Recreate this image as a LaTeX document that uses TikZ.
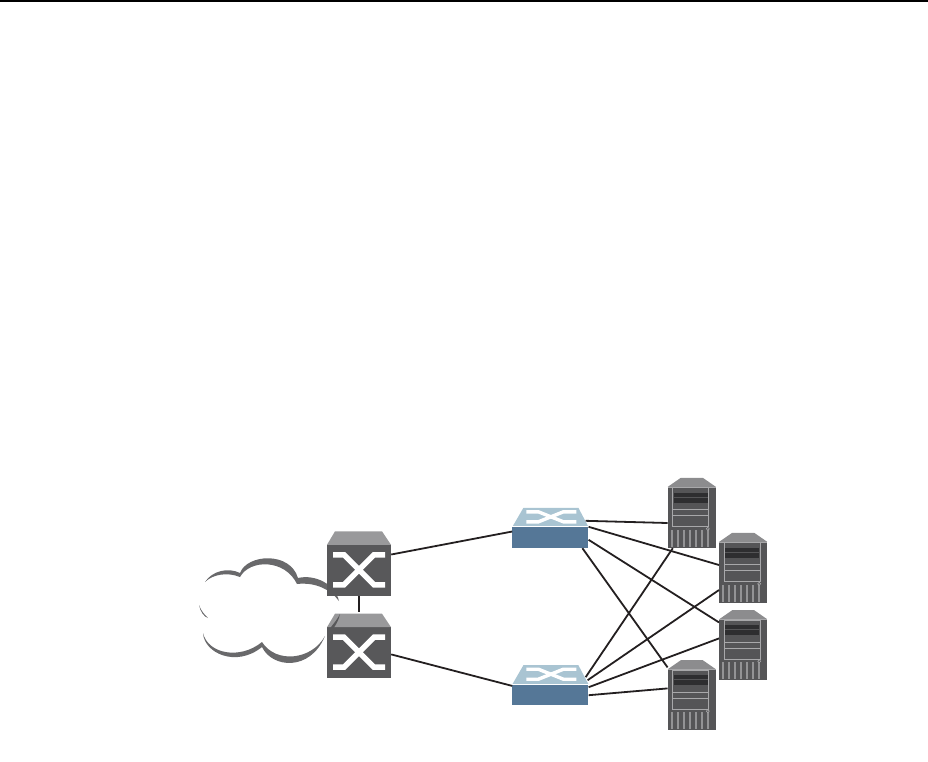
\documentclass[tikz,border=0pt]{standalone}
\usepackage{xcolor}
\usetikzlibrary{positioning,calc}
\definecolor{routerFill}{HTML}{58585A}
\definecolor{routerTop}{HTML}{99999B}
\definecolor{switchFill}{HTML}{557797}
\definecolor{switchTop}{HTML}{A9C4D2}
\definecolor{serverFill}{HTML}{555557}
\definecolor{serverTop}{HTML}{8C8C8E}
\definecolor{serverBand}{HTML}{2E2E30}
\definecolor{serverLine}{HTML}{A8A8AA}
\definecolor{linkLine}{HTML}{231F20}
\tikzset{
  routerbox/.style={fill=routerFill, inner sep=0pt, minimum width=64pt, minimum height=51pt},
  switchbox/.style={fill=switchFill, inner sep=0pt, minimum width=76pt, minimum height=21pt},
  serverbox/.style={fill=serverFill, inner sep=0pt, minimum width=48pt, minimum height=61pt},
  link/.style={draw=linkLine, line width=1.8pt},
  cloudArc/.style={fill=routerFill!90!white},
  routerface/.pic={
    \fill[routerTop] (-32,0) -- (-24,-13.5) -- (23,-13.5) -- (32,0) -- cycle;
    \draw[white, line width=5.5pt] (-26,10) -- (-15,10) -- (15,40) -- (26,40);
    \draw[white, line width=5.5pt] (-26,40) -- (-15,40) -- (15,10) -- (26,10);
  },
  switchface/.pic={
    \fill[switchTop] (-38,0) -- (-27,-19) -- (28,-19) -- (38,0) -- cycle;
    \draw[white, line width=1pt] (-38,0) -- (38,0);
    \draw[white, line width=3.4pt] (-24,-15) -- (-12,-15) -- (13,-5) -- (26,-5);
    \draw[white, line width=3.4pt] (-24,-5) -- (-12,-5) -- (13,-15) -- (26,-15);
  },
  serverface/.pic={
    \fill[serverTop] (-24,0) -- (-11,-9) -- (11,-9) -- (24,0) -- cycle;
    \draw[serverLine, line width=.6pt] (-24,0) -- (24,0);
    \draw[serverLine, line width=.7pt] (-19,1) rectangle (17,40);
    \fill[serverBand] (-18,6) rectangle (16,10);
    \fill[serverBand] (-18,11) rectangle (16,16);
    \draw[serverLine, line width=.8pt] (-19,23) -- (17,23);
    \draw[serverLine, line width=.8pt] (-19,29) -- (17,29);
    \foreach \x in {-20,-14,-8,-2,4,10,16}
      \draw[serverLine!75!serverFill, line width=1.6pt] (\x,43) -- (\x,60);
    \draw[serverLine, line width=.6pt] (16,42) circle (1.5);
  },
}
\begin{document}
\begin{tikzpicture}[x=1pt,y=-1pt]
  \useasboundingbox (0,0) rectangle (928,761);
  \coordinate (ruleL) at (0,1);
  \coordinate (ruleR) at (928,1);
  \draw[black, line width=1.6pt] (ruleL) -- (ruleR);
  % cloud
  \fill[cloudArc] (205,582) .. controls (212,571) and (228,567) .. (240,573)
    .. controls (247,554) and (290,551) .. (298,578)
    .. controls (315,574) and (335,584) .. (339,601)
    .. controls (330,589) and (315,582) .. (297,584)
    .. controls (285,559) and (250,559) .. (240,577)
    .. controls (228,572) and (213,574) .. (205,582) -- cycle;
  \fill[cloudArc] (199,605) .. controls (201,611) and (205,615) .. (208,618)
    .. controls (204,617) and (200,611) .. (199,605) -- cycle;
  \fill[cloudArc] (203,633) .. controls (204,653) and (236,668) .. (262,647)
    .. controls (272,668) and (310,672) .. (325,636)
    .. controls (312,660) and (276,664) .. (262,642)
    .. controls (240,660) and (208,654) .. (203,633) -- cycle;
  % devices
  \node[routerbox] (routerA) at (359,570.5) {};
  \node[routerbox, below=31pt of routerA] (routerB) {};
  \node[switchbox, right=121pt of routerA, yshift=33pt] (switchA) {};
  \node[switchbox, below=136pt of switchA] (switchB) {};
  \node[serverbox, right=79pt of switchA, yshift=20pt] (serverA) {};
  \node[serverbox, right=3pt of serverA, yshift=-55pt] (serverB) {};
  \node[serverbox, below=16pt of serverB] (serverC) {};
  \node[serverbox, left=3pt of serverC, yshift=-50pt] (serverD) {};
  \foreach \n in {routerA,routerB} \pic at (\n.north) {routerface};
  \foreach \n in {switchA,switchB} \pic at (\n.north) {switchface};
  \foreach \n in {serverA,serverB,serverC,serverD} \pic at (\n.north) {serverface};
  \fill[routerFill] (340,614) .. controls (338,624) and (332,630) .. (327,636)
    .. controls (328,628) and (335,624) .. (340,614) -- cycle;
  % links
  \draw[link] (routerA.south) -- ([shift={(0,-15)}]routerB.north);
  \draw[link] ([shift={(0,-16)}]routerA.east) -- ([shift={(0,-6)}]switchA.west);
  \draw[link] ([shift={(0,1.5)}]routerB.east) -- ([shift={(0,-9)}]switchB.west);
  \draw[link] ([shift={(-3,-6)}]switchA.north east) -- ([shift={(0,5.5)}]serverA.west);
  \draw[link] (switchA.north east) -- ([shift={(0,-7.5)}]serverB.west);
  \draw[link] ([shift={(0,13)}]switchA.north east) -- ([shift={(0,-27.5)}]serverC.west);
  \draw[link] (switchA.south) ++(32,0) -- ([shift={(0,-32.5)}]serverD.west);
  \draw[link] ([shift={(-3,-7)}]switchB.north east) -- ([shift={(-19,0)}]serverA.south);
  \draw[link] ([shift={(-1,-4)}]switchB.north east) -- ([shift={(0,17.5)}]serverB.west);
  \draw[link] ([shift={(0,3)}]switchB.north east) -- ([shift={(0,-11.5)}]serverC.west);
  \draw[link] ([shift={(0,11)}]switchB.north east) -- ([shift={(0,-11.5)}]serverD.west);
\end{tikzpicture}
\end{document}
